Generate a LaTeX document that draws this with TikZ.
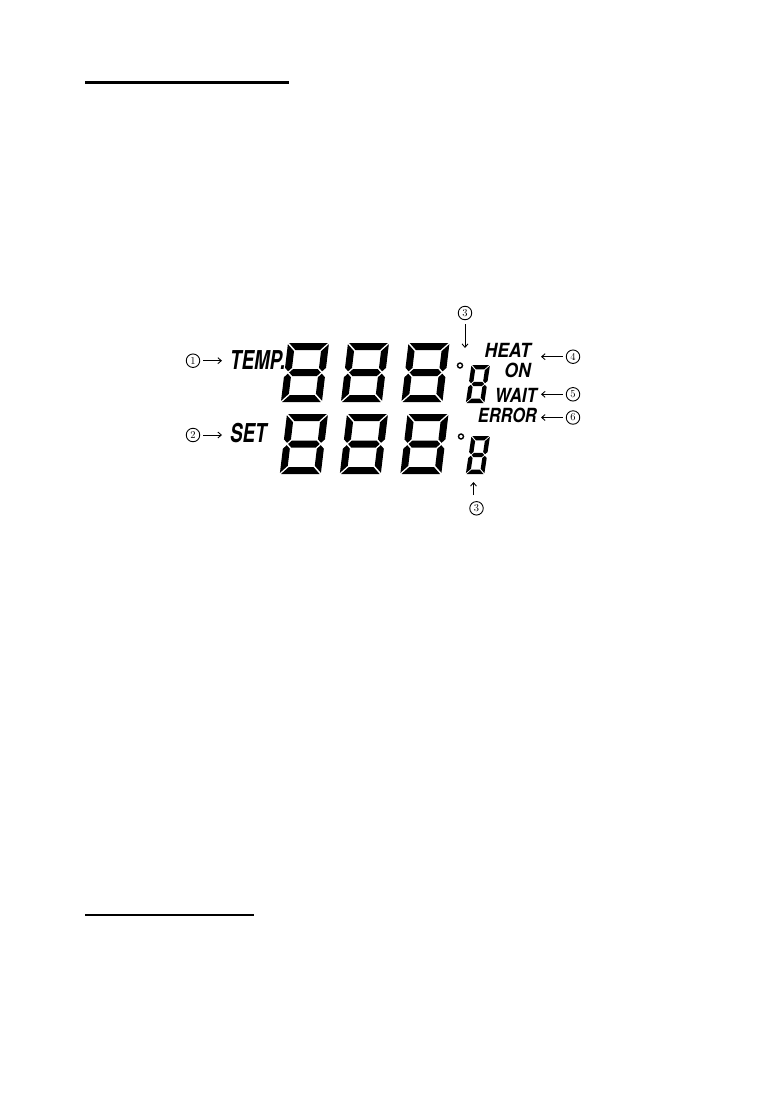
\documentclass[tikz,border=0pt]{standalone}
\usepackage{fontspec}
\usepackage{graphicx}
\usetikzlibrary{arrows.meta}
\newfontfamily\lcdfont{TeX Gyre Heros}
\newcommand\sevseg[7]{%
 \begin{scope}[shift={(#1,#2)},xslant=#7]
  \pgfmathsetmacro\sgW{#3}\pgfmathsetmacro\sgH{#4}%
  \pgfmathsetmacro\sgT{#5}\pgfmathsetmacro\sgG{#6}%
  \pgfmathsetmacro\sgh{#4/2}%
  % top
  \fill (\sgG,0) -- ({\sgW-\sgG},0) -- ({\sgW-\sgT-\sgG},\sgT) -- ({\sgT+\sgG},\sgT) -- cycle;
  % bottom
  \fill (\sgG,\sgH) -- ({\sgW-\sgG},\sgH) -- ({\sgW-\sgT-\sgG},{\sgH-\sgT}) -- ({\sgT+\sgG},{\sgH-\sgT}) -- cycle;
  % upper right
  \fill (\sgW,\sgG) -- (\sgW,{\sgh-\sgT/2-\sgG}) -- ({\sgW-\sgT/2},{\sgh-\sgG}) -- ({\sgW-\sgT},{\sgh-\sgT/2-\sgG}) -- ({\sgW-\sgT},{\sgT+\sgG}) -- cycle;
  % lower right
  \fill ({\sgW-\sgT/2},{\sgh+\sgG}) -- (\sgW,{\sgh+\sgT/2+\sgG}) -- (\sgW,{\sgH-\sgG}) -- ({\sgW-\sgT},{\sgH-\sgT-\sgG}) -- ({\sgW-\sgT},{\sgh+\sgT/2+\sgG}) -- cycle;
  % lower left
  \fill ({\sgT/2},{\sgh+\sgG}) -- (0,{\sgh+\sgT/2+\sgG}) -- (0,{\sgH-\sgG}) -- (\sgT,{\sgH-\sgT-\sgG}) -- (\sgT,{\sgh+\sgT/2+\sgG}) -- cycle;
  % upper left
  \fill (0,\sgG) -- (0,{\sgh-\sgT/2-\sgG}) -- ({\sgT/2},{\sgh-\sgG}) -- (\sgT,{\sgh-\sgT/2-\sgG}) -- (\sgT,{\sgT+\sgG}) -- cycle;
  % middle
  \fill ({\sgT/2+\sgG},\sgh) -- ({\sgT+\sgG},{\sgh-\sgT/2}) -- ({\sgW-\sgT-\sgG},{\sgh-\sgT/2}) -- ({\sgW-\sgT/2-\sgG},\sgh) -- ({\sgW-\sgT-\sgG},{\sgh+\sgT/2}) -- ({\sgT+\sgG},{\sgh+\sgT/2}) -- cycle;
 \end{scope}}
\tikzset{
 lcdbig/.style={inner sep=0pt,font=\lcdfont\bfseries\itshape\fontsize{26}{26}\selectfont},
 lcdsmall/.style={inner sep=0pt,font=\lcdfont\bfseries\itshape\fontsize{19.5}{19.5}\selectfont},
 cnum/.style={circle,draw,line width=0.9pt,minimum size=13.5pt,inner sep=0pt,font=\fontsize{10.5}{10.5}\selectfont},
 arr/.style={line width=0.9pt,-{Straight Barb[length=3.5pt,width=6pt]}},
 degree/.style={line width=1.4pt},
 rule/.style={line width=3pt}
}
\begin{document}
\begin{tikzpicture}[x=1pt,y=-1pt]
\fill[white] (0,0) rectangle (766,1106);
\useasboundingbox (0,0) rectangle (766,1106);
% horizontal rules
\draw[rule] (85,82) -- (289,82);
\draw[rule,line width=2.5pt] (85,915) -- (254,915);
% big digits, top row
\sevseg{288}{343}{41}{59}{7}{1.2}{0.12}
\sevseg{348}{343}{41}{59}{7}{1.2}{0.12}
\sevseg{408.5}{343}{41}{59}{7}{1.2}{0.12}
% big digits, bottom row
\sevseg{287}{414}{41}{60}{7}{1.2}{0.12}
\sevseg{347}{414}{41}{60}{7}{1.2}{0.12}
\sevseg{407.5}{414}{41}{60}{7}{1.2}{0.12}
% small digits
\sevseg{471.5}{365}{18.5}{38}{4.4}{0.8}{0.15}
\sevseg{471.5}{436}{18.5}{38}{4.4}{0.8}{0.15}
% degree marks
\draw[degree] (460,365.5) circle (2.5);
\draw[degree] (461,436.5) circle (2.5);
% labels
\node[lcdbig,anchor=west] (temp) at (230,360.5) {\scalebox{0.72}[1]{TEMP.}};
\node[lcdbig,anchor=west] (set) at (230,433.5) {\scalebox{0.72}[1]{SET}};
\node[lcdsmall,anchor=east] (heat) at (531,350.5) {\scalebox{0.9}[1]{HEAT}};
\node[lcdsmall,anchor=east] (on) at (531,370) {\scalebox{0.9}[1]{ON}};
\node[lcdsmall,anchor=east] (wait) at (537,395) {\scalebox{0.86}[1]{WAIT}};
\node[lcdsmall,anchor=east] (error) at (537,415) {\scalebox{0.84}[1]{ERROR}};
% circled numbers
\node[cnum] (c1) at (193,360.7) {1};
\node[cnum] (c2) at (193,435) {2};
\node[cnum] (c3a) at (465,313) {3};
\node[cnum] (c3b) at (476.5,508.3) {3};
\node[cnum] (c4) at (573,356.7) {4};
\node[cnum] (c5) at (573,394.3) {5};
\node[cnum] (c6) at (573,417.5) {6};
% arrow targets
\coordinate (t3a) at (465,348);
\coordinate (t3b) at (473.5,482);
% arrows
\draw[arr,shorten <=4pt] (c3a.south) -- (t3a);
\draw[arr,shorten <=6pt] (c3b.north -| t3b) -- (t3b);
\draw[arr,shorten <=3pt,shorten >=8pt] (c1.east) -- (c1.east -| temp.west);
\draw[arr,shorten <=3pt,shorten >=8pt] (c2.east) -- (c2.east -| set.west);
\draw[arr,shorten <=3pt,shorten >=10pt] (c4.west) -- (c4.west -| heat.east);
\draw[arr,shorten <=3pt,shorten >=4pt] (c5.west) -- (c5.west -| wait.east);
\draw[arr,shorten <=3pt,shorten >=4pt] (c6.west) -- (c6.west -| error.east);
\end{tikzpicture}
\end{document}
